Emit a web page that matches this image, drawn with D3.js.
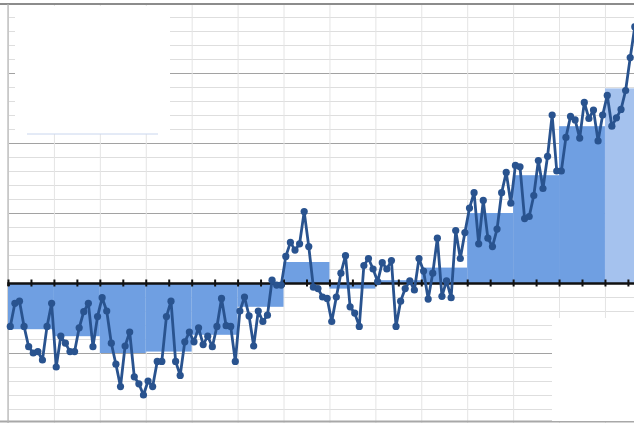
<!DOCTYPE html>
<html>
<head>
<meta charset="utf-8">
<script src="https://cdn.jsdelivr.net/npm/d3@7"></script>
<style>
  body { margin: 0; background: #fff; }
  svg { display: block; }
</style>
</head>
<body>
<div id="chart"></div>
<script>
// yearly anomaly, 1880 to 2016
const firstYear = 1880;
const anomaly = [
  -0.31, -0.145, -0.13, -0.31, -0.455, -0.50, -0.49, -0.55, -0.31, -0.145,
  -0.60, -0.38, -0.43, -0.49, -0.49, -0.32, -0.205, -0.145, -0.455, -0.24,
  -0.105, -0.20, -0.43, -0.58, -0.74, -0.45, -0.35, -0.67, -0.72, -0.80,
  -0.70, -0.74, -0.56, -0.56, -0.24, -0.13, -0.56, -0.66, -0.42, -0.35,
  -0.42, -0.32, -0.44, -0.38, -0.455, -0.31, -0.11, -0.305, -0.31, -0.56,
  -0.20, -0.10, -0.235, -0.45, -0.20, -0.275, -0.23, 0.02, -0.015, -0.015,
  0.19, 0.29, 0.235, 0.28, 0.51, 0.26, -0.03, -0.04, -0.10, -0.11,
  -0.275, -0.10, 0.07, 0.195, -0.17, -0.215, -0.31, 0.125, 0.175, 0.10,
  0.01, 0.145, 0.10, 0.16, -0.31, -0.13, -0.04, 0.015, -0.05, 0.175,
  0.085, -0.115, 0.07, 0.32, -0.095, 0.015, -0.105, 0.375, 0.175, 0.36,
  0.535, 0.645, 0.28, 0.59, 0.32, 0.26, 0.385, 0.645, 0.79, 0.57,
  0.84, 0.83, 0.46, 0.475, 0.625, 0.875, 0.675, 0.905, 1.20, 0.80,
  0.80, 1.04, 1.19, 1.165, 1.035, 1.29, 1.175, 1.235, 1.015, 1.20,
  1.34, 1.12, 1.18, 1.24, 1.375, 1.61, 1.83
];

// decade averages (last decade still in progress)
const decades = [1880, 1890, 1900, 1910, 1920, 1930, 1940, 1950, 1960, 1970, 1980, 1990, 2000, 2010];
const decadeAvg = [-0.33, -0.38, -0.50, -0.49, -0.37, -0.17, 0.15, -0.04, 0.02, 0.11, 0.50, 0.77, 1.12, 1.39];

const data = anomaly.map((v, i) => ({year: firstYear + i, value: v}));

const W = 634, H = 423;
const margin = {top: 3, left: 8};
const pxPerYear = 4.592;

const svg = d3.select("#chart").append("svg")
  .attr("width", W)
  .attr("height", H);

const x = d3.scaleLinear()
  .domain([1879.5, 2020.5])
  .range([margin.left, margin.left + 141 * pxPerYear]);

const y = d3.scaleLinear()
  .domain([-1, 2])
  .range([H, margin.top]);

const plotRight = x(2020.5);

// horizontal grid, every 0.1, darker every 0.5
const gridVals = d3.range(-10, 21).map(d => d / 10);
svg.append("g")
  .attr("transform", `translate(${margin.left},0)`)
  .call(d3.axisLeft(y).tickValues(gridVals).tickSize(-(plotRight - margin.left)).tickFormat(""))
  .call(g => g.select(".domain").remove())
  .call(g => g.selectAll(".tick line")
    .attr("stroke", d => Math.abs(d * 10) % 5 === 0 ? "#a2a2a2" : "#dedede")
    .attr("stroke-width", d => Math.abs(d * 10) % 5 === 0 ? 1.2 : 1));

// vertical grid at decade boundaries
svg.append("g")
  .attr("transform", `translate(0,${H})`)
  .call(d3.axisBottom(x).tickValues(decades.map(d => d - 0.5).concat([2019.5])).tickSize(-(H - margin.top)).tickFormat(""))
  .call(g => g.select(".domain").remove())
  .call(g => g.selectAll(".tick line").attr("stroke", "#e4e4e4"));

// frame
svg.append("line").attr("x1", 0).attr("x2", W).attr("y1", 4).attr("y2", 4)
  .attr("stroke", "#8c8c8c").attr("stroke-width", 2);
svg.append("line").attr("x1", 0).attr("x2", W).attr("y1", H - 1.5).attr("y2", H - 1.5)
  .attr("stroke", "#a8a8a8").attr("stroke-width", 2);
svg.append("line").attr("x1", x(1879.5)).attr("x2", x(1879.5)).attr("y1", 4).attr("y2", H)
  .attr("stroke", "#b5b5b5").attr("stroke-width", 1.2);

// blanked legend areas
svg.append("rect").attr("x", 15).attr("y", 6).attr("width", 155).attr("height", 128).attr("fill", "#fff");
svg.append("line").attr("x1", 27).attr("x2", 158).attr("y1", 134).attr("y2", 134)
  .attr("stroke", "#c9d6ee").attr("stroke-width", 1);
svg.append("rect").attr("x", 552).attr("y", 318).attr("width", W - 552).attr("height", H - 320).attr("fill", "#fff");

// decade bars
svg.append("g").selectAll("rect")
  .data(decades)
  .join("rect")
  .attr("x", d => x(d - 0.5))
  .attr("width", d => x(d + 9.5) - x(d - 0.5))
  .attr("y", (d, i) => y(Math.max(0, decadeAvg[i])))
  .attr("height", (d, i) => Math.abs(y(decadeAvg[i]) - y(0)))
  .attr("fill", (d, i) => i === decades.length - 1 ? "#a5c2ee" : "#6f9fe2");

// zero axis with ticks every 5 years
svg.append("g")
  .attr("transform", `translate(0,${y(0)})`)
  .call(d3.axisBottom(x).tickValues(d3.range(1879.5, 2021, 5)).tickSize(3).tickFormat(""))
  .call(g => g.select(".domain").attr("stroke", "#111").attr("stroke-width", 2.5))
  .call(g => g.selectAll(".tick line").attr("y1", -3.5).attr("y2", 3.5)
    .attr("stroke", "#111").attr("stroke-width", 2));

// yearly line
const line = d3.line()
  .x(d => x(d.year))
  .y(d => y(d.value));

svg.append("path")
  .datum(data)
  .attr("fill", "none")
  .attr("stroke", "#29538f")
  .attr("stroke-width", 2.8)
  .attr("stroke-linejoin", "round")
  .attr("d", line);

svg.append("g").selectAll("circle")
  .data(data)
  .join("circle")
  .attr("cx", d => x(d.year))
  .attr("cy", d => y(d.value))
  .attr("r", 3.6)
  .attr("fill", "#29538f");
</script>
</body>
</html>
